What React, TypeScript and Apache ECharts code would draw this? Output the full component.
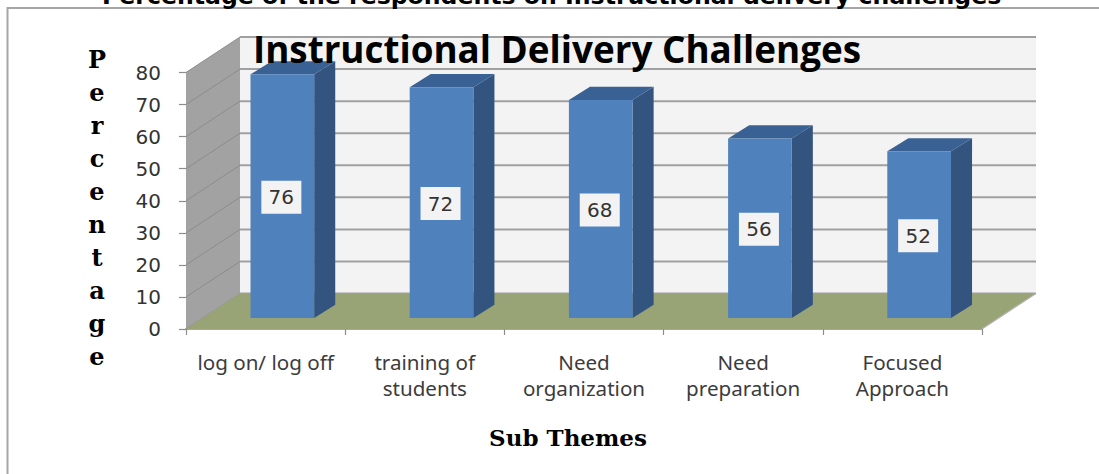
import React, { useEffect, useRef } from "react";
import * as echarts from "echarts";

const categories = ["log on/ log off", "training of\nstudents", "Need\norganization", "Need\npreparation", "Focused\nApproach"];
const values = [76, 72, 68, 56, 52];
const yTicks = [0, 10, 20, 30, 40, 50, 60, 70, 80];
const mainTitle = "Instructional Delivery Challenges";
const topTitle = "Percentage of the respondents on Instructional delivery challenges";
const yName = "Percentage";
const xName = "Sub Themes";

const DEPTH_X = 54;
const DEPTH_Y = 35.5;

const App = () => {
  const ref = useRef<HTMLDivElement>(null);
  useEffect(() => {
    const chart = echarts.init(ref.current!, null, { renderer: "svg" });

    const renderWalls = (params: any, api: any) => {
      if (params.dataIndex !== 0) return null;
      const cs = params.coordSys;
      const L = cs.x, R = cs.x + cs.width, T = cs.y, B = cs.y + cs.height;
      const children: any[] = [
        { type: "rect", shape: { x: L + DEPTH_X, y: T - DEPTH_Y, width: cs.width, height: cs.height }, style: { fill: "#f3f3f3" } },
        { type: "polygon", shape: { points: [[L, T], [L + DEPTH_X, T - DEPTH_Y], [L + DEPTH_X, B - DEPTH_Y], [L, B]] }, style: { fill: "#a2a2a2" } },
      ];
      yTicks.forEach((t) => {
        const y = api.coord([0, t])[1];
        children.push({ type: "line", shape: { x1: L, y1: y, x2: L + DEPTH_X, y2: y - DEPTH_Y }, style: { stroke: "#8c8c8c", lineWidth: 1 } });
        children.push({ type: "line", shape: { x1: L + DEPTH_X, y1: y - DEPTH_Y, x2: R + DEPTH_X, y2: y - DEPTH_Y }, style: { stroke: "#a0a0a0", lineWidth: 2 } });
      });
      children.push({ type: "polygon", shape: { points: [[L, B], [R, B], [R + DEPTH_X, B - DEPTH_Y], [L + DEPTH_X, B - DEPTH_Y]] }, style: { fill: "#98a376" } });
      children.push({ type: "line", shape: { x1: R, y1: B, x2: R + DEPTH_X, y2: B - DEPTH_Y }, style: { stroke: "#b4b4b4", lineWidth: 1.2 } });
      return { type: "group", children };
    };

    const renderBar = (_params: any, api: any) => {
      const idx = api.value(0);
      const val = api.value(1);
      const band = api.size([1, 0])[0];
      const [cx, yTop] = api.coord([idx, val]);
      const [, yBase] = api.coord([idx, 0]);
      const w = band * 0.4;
      const ox = DEPTH_X * 0.31;
      const oy = DEPTH_Y * 0.31;
      const dx = DEPTH_X * 0.39;
      const dy = DEPTH_Y * 0.37;
      const x0 = cx + ox - w / 2;
      const x1 = x0 + w;
      const top = yTop - oy;
      const bot = yBase - oy;
      const lw = 40, lh = 33;
      const lx = (x0 + x1) / 2 - 1;
      const ly = (top + bot) / 2 + 1;
      return {
        type: "group",
        children: [
          { type: "polygon", shape: { points: [[x1, top], [x1 + dx, top - dy], [x1 + dx, bot - dy], [x1, bot]] }, style: { fill: "#32547f" } },
          { type: "polygon", shape: { points: [[x0, top], [x0 + dx, top - dy], [x1 + dx, top - dy], [x1, top]] }, style: { fill: "#3a6193" } },
          { type: "rect", shape: { x: x0, y: top, width: w, height: bot - top }, style: { fill: "#4f81bd" } },
          { type: "rect", shape: { x: lx - lw / 2, y: ly - lh / 2, width: lw, height: lh }, style: { fill: "#f3f3f3" } },
          {
            type: "text",
            x: lx,
            y: ly,
            style: { text: String(val), fill: "#333333", font: "20px 'DejaVu Sans'", align: "center", verticalAlign: "middle" },
          },
        ],
      };
    };

    chart.setOption({
      animation: false,
      backgroundColor: "#ffffff",
      title: [
        {
          text: topTitle,
          left: 102,
          top: -16,
          padding: 0,
          textStyle: { fontFamily: "DejaVu Sans", fontWeight: "bold", fontSize: 23.6, color: "#000000" },
        },
        {
          text: mainTitle,
          left: 253,
          top: 30,
          padding: 0,
          textStyle: { fontFamily: "Open Sans", fontWeight: "bold", fontSize: 36.8, color: "#000000" },
        },
      ],
      grid: { left: 186, right: 117, top: 72.5, bottom: 145 },
      xAxis: {
        type: "category",
        data: categories,
        boundaryGap: true,
        axisLine: { show: true, lineStyle: { color: "#a6a6a6", width: 2 } },
        axisTick: { show: true, alignWithLabel: false, length: 6, lineStyle: { color: "#8c8c8c", width: 1.2 } },
        axisLabel: { color: "#3c3c3c", fontFamily: "Noto Sans", fontSize: 20.6, lineHeight: 26, margin: 20, interval: 0 },
        name: xName,
        nameLocation: "middle",
        nameGap: 97,
        nameTextStyle: { fontFamily: "DejaVu Serif", fontWeight: "bold", fontSize: 23, color: "#000000", padding: [0, 32, 0, 0] },
      },
      yAxis: {
        type: "value",
        min: 0,
        max: 80,
        interval: 10,
        splitLine: { show: false },
        axisLine: { show: true, lineStyle: { color: "#a6a6a6", width: 1 } },
        axisTick: { show: true, length: 7, lineStyle: { color: "#8c8c8c", width: 1.2 } },
        axisLabel: { color: "#333333", fontFamily: "DejaVu Sans", fontSize: 20, margin: 25 },
      },
      series: [
        {
          type: "custom",
          z: 1,
          clip: false,
          silent: true,
          renderItem: renderWalls,
          encode: { x: 0, y: 1 },
          data: [[0, 0]],
        },
        {
          type: "custom",
          z: 3,
          clip: false,
          renderItem: renderBar,
          encode: { x: 0, y: 1 },
          data: values.map((v, i) => [i, v]),
        },
      ],
      graphic: [
        {
          type: "polyline",
          shape: { points: [[7.5, 480], [7.5, 8], [1105, 8]] },
          style: { stroke: "#a6a6a6", lineWidth: 2, fill: "none" },
        },
        {
          type: "text",
          x: 97,
          y: 43,
          style: {
            text: yName.split("").join("\n"),
            font: "bold 24px 'DejaVu Serif'",
            lineHeight: 33,
            fill: "#000000",
            align: "center",
            verticalAlign: "top",
          },
        },
      ],
    });
    return () => chart.dispose();
  }, []);
  return (
    <div
      ref={ref}
      style={{ position: "fixed", left: 0, top: 0, width: 1099, height: 474, background: "#fff" }}
    />
  );
};

export default App;
